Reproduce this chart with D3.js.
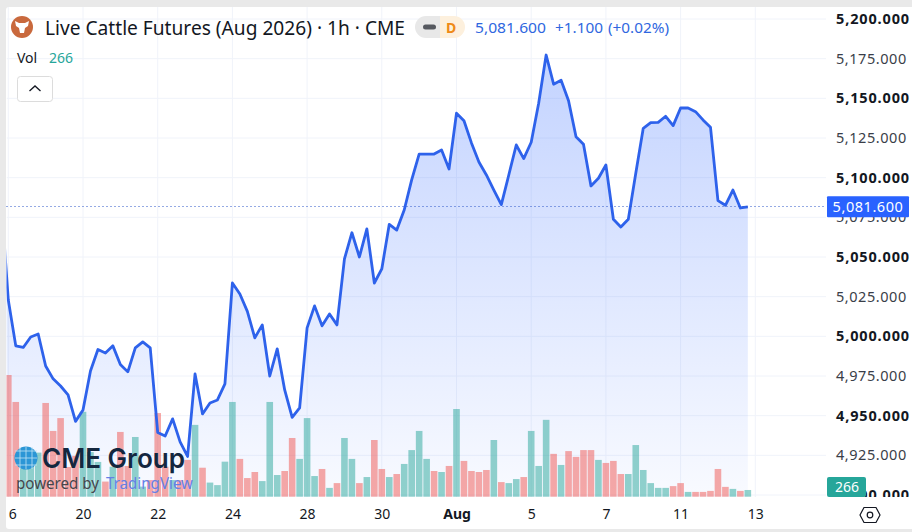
<!DOCTYPE html>
<html>
<head>
<meta charset="utf-8">
<script src="https://cdn.jsdelivr.net/npm/d3@7"></script>
<style>
  html, body { margin: 0; padding: 0; background: #fff; overflow: hidden; }
  svg { display: block; }
  text { font-family: "Noto Sans", "Open Sans", sans-serif; }
  .domain { display: none; }
</style>
</head>
<body>
<svg id="chart" width="912" height="532"></svg>
<script>
// first close is the hidden bar just left of the visible range
const closes = [
  5089, 5022.9, 4994, 4993, 4999.6, 5001.5, 4981.3, 4973.2, 4968.7, 4963.1, 4946.4,
  4953.6, 4978.2, 4991.7, 4989.5, 4994, 4982.3, 4977.6, 4992.7, 4996.5, 4992.7,
  4939.4, 4937.2, 4948, 4933.5, 4924.3, 4976.3, 4951.1, 4958, 4959.9, 4970,
  5033.6, 5026.7, 5015.7, 4999, 5007.2, 4975, 4992.1, 4966.2, 4948.9, 4954.9,
  5005.3, 5019.2, 5006.6, 5014.1, 5007.2, 5048.8, 5065.3, 5050, 5067.7, 5033.6,
  5042.5, 5070.6, 5067, 5079.6, 5098.6, 5114.9, 5114.9, 5114.9, 5117.5, 5105.5,
  5140.6, 5135.9, 5121.9, 5109.9, 5101.7, 5092.2, 5083, 5101.7, 5120.6, 5112,
  5122.3, 5146.9, 5177.3, 5158.9, 5161.4, 5148.5, 5125.8, 5121, 5094.8, 5099.6,
  5108, 5073.8, 5068.9, 5073.8, 5102.8, 5131.1, 5134.7, 5134.9, 5138.7, 5132.8,
  5143.9, 5143.9, 5141.6, 5136.4, 5131.8, 5085.5, 5082.6, 5092.2, 5080.9, 5081.6
];
const volumes = [
  4830, 3760, 1190, 1750, 1750, 3720, 2610, 3120, 1180, 1620,
  3370, 1770, 1380, 600, 1190, 2570, 1220, 2370, 400, 660,
  3320, 1190, 660, 660, 1460, 2850, 1150, 560, 460, 1390,
  3760, 1500, 740, 980, 620, 3760, 860, 1020, 2330, 1500,
  3120, 820, 1100, 350, 540, 2330, 1500, 540, 780, 2250,
  1100, 780, 900, 1300, 1850, 2610, 1500, 1020, 980, 1220,
  3480, 1420, 1020, 980, 1060, 2250, 580, 540, 700, 780,
  2610, 1220, 3050, 1700, 1260, 1810, 1580, 1850, 1850, 1460,
  1340, 1420, 900, 900, 2050, 1060, 540, 350, 350, 420,
  540, 190, 190, 190, 230, 1100, 390, 310, 230, 266
];
// 1 = close above open, 0 = below
const volumeUp = [
  0, 0, 1, 1, 1, 0, 0, 0, 0, 0,
  1, 1, 1, 0, 1, 0, 0, 1, 1, 0,
  0, 0, 1, 0, 0, 1, 0, 1, 1, 1,
  1, 0, 0, 0, 1, 1, 1, 0, 0, 1,
  1, 1, 0, 1, 0, 1, 1, 0, 1, 0,
  0, 1, 0, 1, 1, 1, 1, 0, 1, 0,
  1, 0, 0, 0, 0, 1, 0, 1, 1, 0,
  1, 1, 1, 0, 1, 0, 0, 0, 0, 1,
  0, 0, 0, 1, 1, 1, 1, 1, 1, 0,
  0, 1, 0, 0, 0, 0, 0, 1, 0, 1
];
const priceTicks = [5200, 5175, 5150, 5125, 5100, 5075, 5050, 5025, 5000, 4975, 4950, 4925, 4900];
const dateTicks = [0, 10, 20, 30, 40, 50, 60, 70, 80, 90, 100];
const dateLabels = ["6", "20", "22", "24", "28", "30", "Aug", "5", "7", "11", "13"];
const lastPrice = 5081.6;
const lastVolume = 266;

const svg = d3.select("#chart");
const plotRight = 826, plotBottom = 497, plotLeft = 6.5;

const x = d3.scaleLinear().domain([0, 100]).range([8.3, 755.3]);
const y = d3.scaleLinear().domain([4900, 5200]).range([495, 19]);
const yVol = d3.scaleLinear().domain([0, 4830]).range([496.7, 375]);

// frame
svg.append("rect").attr("width", 912).attr("height", 532).attr("fill", "#e9e9e9");
svg.append("rect").attr("x", 6).attr("y", 7).attr("width", 912).attr("height", 522)
  .attr("rx", 3).attr("fill", "#fff");

const defs = svg.append("defs");
defs.append("clipPath").attr("id", "plot").append("rect")
  .attr("x", plotLeft).attr("y", 7).attr("width", plotRight - plotLeft).attr("height", plotBottom - 7);
const grad = defs.append("linearGradient").attr("id", "areaFill")
  .attr("gradientUnits", "userSpaceOnUse").attr("x1", 0).attr("x2", 0).attr("y1", 55).attr("y2", 497);
grad.append("stop").attr("offset", 0).attr("stop-color", "#2962ff").attr("stop-opacity", 0.28);
grad.append("stop").attr("offset", 1).attr("stop-color", "#2962ff").attr("stop-opacity", 0.03);

// grid
svg.append("g").attr("clip-path", "url(#plot)").selectAll("line").data(priceTicks).join("line")
  .attr("x1", plotLeft).attr("x2", plotRight)
  .attr("y1", d => y(d)).attr("y2", d => y(d))
  .attr("stroke", "#f0f3fa");
svg.append("g").attr("clip-path", "url(#plot)").selectAll("line").data(dateTicks).join("line")
  .attr("x1", d => x(d)).attr("x2", d => x(d))
  .attr("y1", 7).attr("y2", plotBottom)
  .attr("stroke", "#f0f3fa");

const plot = svg.append("g").attr("clip-path", "url(#plot)");

// price area goes under the volume bars so their colours stay clean
const area = d3.area().x((d, i) => x(i - 1)).y0(plotBottom).y1(d => y(d));
const line = d3.line().x((d, i) => x(i - 1)).y(d => y(d));
plot.append("path").datum(closes).attr("d", area).attr("fill", "url(#areaFill)");

plot.selectAll("rect.vol").data(volumes).join("rect")
  .attr("class", "vol")
  .attr("x", (d, i) => x(i) - 3.3)
  .attr("width", 6.6)
  .attr("y", d => yVol(d))
  .attr("height", d => yVol(0) - yVol(d))
  .attr("fill", (d, i) => volumeUp[i] ? "#26a69a" : "#ef5350")
  .attr("fill-opacity", 0.5);

plot.append("path").datum(closes).attr("d", line)
  .attr("fill", "none").attr("stroke", "#2e62eb").attr("stroke-width", 2.8)
  .attr("stroke-linejoin", "round");

// last price dotted line, snapped to a pixel row so the dots stay dark
const lastY = Math.floor(y(lastPrice)) + 0.5;
svg.append("line").attr("x1", plotLeft).attr("x2", plotRight)
  .attr("y1", lastY).attr("y2", lastY)
  .attr("stroke", "#2a55c8").attr("stroke-dasharray", "1 3");

// watermark
const wm = svg.append("g");
wm.append("circle").attr("cx", 26).attr("cy", 458).attr("r", 11.5).attr("fill", "#2b96d6");
[-7, 0, 7].forEach(dy => wm.append("line").attr("x1", 15).attr("x2", 37)
  .attr("y1", 458 + dy).attr("y2", 458 + dy).attr("stroke", "#bfe3f5").attr("stroke-width", 0.8));
[-6, 0, 6].forEach(dx => wm.append("line").attr("x1", 26 + dx).attr("x2", 26 + dx)
  .attr("y1", 447).attr("y2", 469).attr("stroke", "#bfe3f5").attr("stroke-width", 0.8));
wm.append("text").attr("x", 42).attr("y", 468).attr("font-size", 27).attr("font-weight", 600)
  .style("font-family", "Inter, sans-serif")
  .attr("textLength", 143).attr("lengthAdjust", "spacingAndGlyphs").attr("fill", "#14273f").text("CME Group");
wm.append("text").attr("x", 16).attr("y", 489).attr("font-size", 16)
  .attr("textLength", 83).attr("lengthAdjust", "spacingAndGlyphs").attr("fill", "#46464c").text("powered by");
wm.append("text").attr("x", 106).attr("y", 489).attr("font-size", 16)
  .attr("textLength", 87).attr("lengthAdjust", "spacingAndGlyphs").attr("fill", "#6580e6").text("TradingView");

// price axis
const priceAxis = d3.axisRight(y).tickValues(priceTicks).tickSize(0).tickPadding(0)
  .tickFormat(d3.format(",.3f"));
const gp = svg.append("g").attr("transform", "translate(836,0)").call(priceAxis);
gp.selectAll("text")
  .attr("font-size", 14.5)
  .attr("fill", d => d % 50 === 0 ? "#131722" : "#3a3e48")
  .attr("letter-spacing", d => d % 50 === 0 ? 0.85 : 0.55)
  .attr("font-weight", d => d % 50 === 0 ? 700 : 400)
  .attr("dy", "0.32em")
  .style("font-family", '"Noto Sans", sans-serif');

// time axis
const timeAxis = d3.axisBottom(x).tickValues(dateTicks).tickSize(0).tickPadding(0)
  .tickFormat((d, i) => dateLabels[i]);
const gt = svg.append("g").attr("transform", "translate(0,509)").call(timeAxis);
gt.selectAll("text").attr("font-size", 14).attr("fill", "#131722").attr("dy", "0.71em")
  .attr("dx", (d, i) => i === 0 ? 4 : 0)
  .attr("font-weight", (d, i) => dateLabels[i] === "Aug" ? 700 : 400)
  .style("font-family", '"Noto Sans", sans-serif');

// cover the part of the price labels that runs under the time scale
svg.append("rect").attr("x", 827).attr("y", 497).attr("width", 85).attr("height", 12).attr("fill", "#fff");

// badges
svg.append("rect").attr("x", 827).attr("y", y(lastPrice) - 10.5).attr("width", 82).attr("height", 21)
  .attr("rx", 1).attr("fill", "#2962ff");
svg.append("text").attr("x", 868).attr("y", y(lastPrice) + 5).attr("text-anchor", "middle")
  .attr("font-size", 14.5).attr("letter-spacing", 0.55).attr("fill", "#fff").text(d3.format(",.3f")(lastPrice));
svg.append("rect").attr("x", 827).attr("y", 477).attr("width", 39).attr("height", 20)
  .attr("rx", 2).attr("fill", "#26a69a");
svg.append("text").attr("x", 847).attr("y", 492).attr("text-anchor", "middle")
  .attr("font-size", 14).attr("fill", "#fff").text(lastVolume);

// settings hexagon
svg.append("path").attr("d", "M864 507.5L876 507.5L880 515L876 522.5L864 522.5L860 515Z")
  .attr("fill", "none").attr("stroke", "#131722").attr("stroke-width", 1.2);
svg.append("circle").attr("cx", 870).attr("cy", 515).attr("r", 2.8)
  .attr("fill", "none").attr("stroke", "#131722").attr("stroke-width", 1.2);

// header
svg.append("circle").attr("cx", 22).attr("cy", 27).attr("r", 11).attr("fill", "#c9693d");
svg.append("path").attr("d", "M15 21L19 23L25 23L29 21L28 26L25 28L24 33L20 33L19 28L16 26Z").attr("fill", "#fff");
svg.append("text").attr("x", 45).attr("y", 35).attr("font-size", 19).attr("fill", "#131722")
  .attr("textLength", 360).attr("lengthAdjust", "spacingAndGlyphs")
  .text("Live Cattle Futures (Aug 2026) · 1h · CME");

svg.append("path").attr("d", "M426 16L440 16L440 38L426 38A11 11 0 0 1 426 16Z").attr("fill", "#e8e8e8");
svg.append("path").attr("d", "M440 16L454 16A11 11 0 0 1 454 38L440 38Z").attr("fill", "#fdf0dd");
svg.append("rect").attr("x", 423).attr("y", 24.5).attr("width", 13).attr("height", 5).attr("rx", 2.5).attr("fill", "#55585f");
svg.append("text").attr("x", 451).attr("y", 33).attr("text-anchor", "middle").attr("font-size", 14)
  .attr("font-weight", 700).attr("fill", "#ef8a17").text("D");

svg.append("text").attr("x", 475).attr("y", 33).attr("font-size", 14).attr("fill", "#2f67e0")
  .attr("textLength", 71).attr("lengthAdjust", "spacingAndGlyphs").text("5,081.600");
svg.append("text").attr("x", 555).attr("y", 33).attr("font-size", 14).attr("fill", "#2f67e0")
  .attr("textLength", 48).attr("lengthAdjust", "spacingAndGlyphs").text("+1.100");
svg.append("text").attr("x", 608).attr("y", 33).attr("font-size", 14).attr("fill", "#2f67e0")
  .attr("textLength", 61).attr("lengthAdjust", "spacingAndGlyphs").text("(+0.02%)");

svg.append("text").attr("x", 17).attr("y", 63).attr("font-size", 14).attr("fill", "#131722").text("Vol");
svg.append("text").attr("x", 49).attr("y", 63).attr("font-size", 14).attr("fill", "#26a69a").text(lastVolume);

svg.append("rect").attr("x", 17.5).attr("y", 76.5).attr("width", 35).attr("height", 25).attr("rx", 3)
  .attr("fill", "#fff").attr("stroke", "#dcdcdc");
svg.append("path").attr("d", "M29.5 91L35 86L40.5 91").attr("fill", "none").attr("stroke", "#131722").attr("stroke-width", 1.3);
</script>
</body>
</html>
